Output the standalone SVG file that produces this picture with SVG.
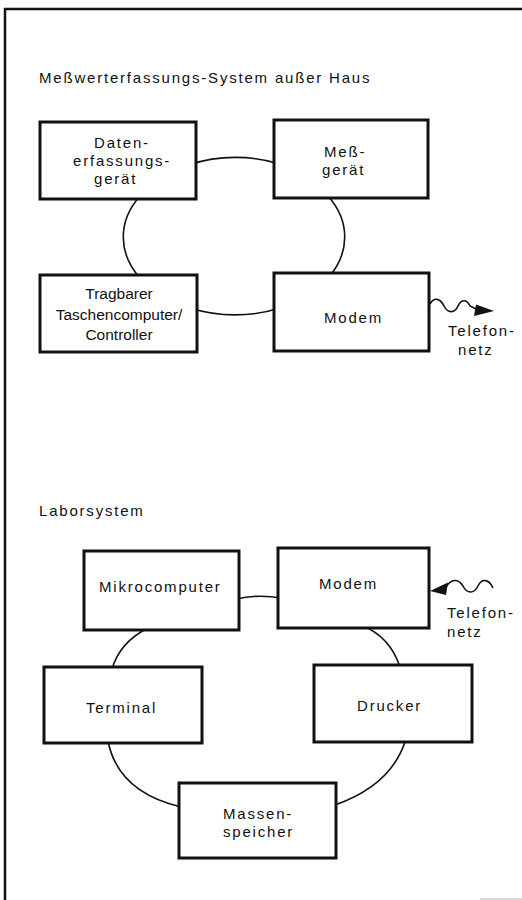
<svg xmlns="http://www.w3.org/2000/svg" width="522" height="900" viewBox="0 0 522 900">
  <style>
    .box { fill: #fff; stroke: #111; stroke-width: 3; }
    .wire { fill: none; stroke: #111; stroke-width: 1.6; }
    .lbl { font-family: "Liberation Sans", Arial, sans-serif; font-size: 15px; fill: #111; letter-spacing: 1.8px; }
    .lbl2 { font-family: "Liberation Sans", Arial, sans-serif; font-size: 15.5px; fill: #111; text-anchor: middle; }
    .frame { fill: none; stroke: #111; stroke-width: 2.5; }
  </style>

  <rect width="522" height="900" fill="#fff"/>

  <!-- page frame -->
  <path class="frame" d="M 5 900 L 5 9 L 522 9"/>
  <line x1="480" y1="899" x2="522" y2="899" stroke="#ccc" stroke-width="1.5"/>

  <!-- section titles -->
  <text class="lbl" x="39" y="83">Meßwerterfassungs-System außer Haus</text>
  <text class="lbl" x="39" y="516">Laborsystem</text>

  <!-- connectors -->
  <g id="connectors">
    <!-- field system ring -->
    <path class="wire" d="M 190 164.5 A 109 77 0 0 1 280 164"/>
    <path class="wire" d="M 140 196 A 109 77 0 0 0 140 278"/>
    <path class="wire" d="M 328 196 A 109 77 0 0 1 328 278"/>
    <path class="wire" d="M 190 308 A 109 77 0 0 0 280 308"/>
    <!-- telephone line out -->
    <path class="wire" d="M 430 304 C 434 297, 440 298, 444 306 C 448 314, 455 313, 458 306 C 461 299, 467 299, 470 306 L 478 310"/>
    <polygon points="494,311 476,304.5 474,316" fill="#111"/>

    <!-- lab system ring -->
    <path class="wire" d="M 236 599 Q 258 594 281 598"/>
    <path class="wire" d="M 148 628 Q 120 642 112 669"/>
    <path class="wire" d="M 108 741 Q 118 792 181 807"/>
    <path class="wire" d="M 335 805 Q 392 785 406 739"/>
    <path class="wire" d="M 363 626 Q 390 637 400 667"/>
    <!-- telephone line in -->
    <path class="wire" d="M 446 587 C 451 579, 458 578, 463 586 C 467 594, 474 594, 478 586 C 482 578, 489 579, 493 588"/>
    <polygon points="430,591 448,582.5 446,595" fill="#111"/>
  </g>

  <!-- field system nodes -->
  <g id="datenerfassungsgeraet">
    <rect class="box" x="40" y="122" width="156" height="77"/>
    <text class="lbl" x="94" y="148">Daten-</text>
    <text class="lbl" x="73" y="166">erfassungs-</text>
    <text class="lbl" x="94" y="184">gerät</text>
  </g>
  <g id="messgeraet">
    <rect class="box" x="274" y="120" width="154" height="78"/>
    <text class="lbl" x="324" y="157">Meß-</text>
    <text class="lbl" x="322" y="175">gerät</text>
  </g>
  <g id="taschencomputer">
    <rect class="box" x="40" y="275" width="157" height="77"/>
    <text class="lbl2" x="119" y="299">Tragbarer</text>
    <text class="lbl2" x="119" y="320">Taschencomputer/</text>
    <text class="lbl2" x="119" y="340">Controller</text>
  </g>
  <g id="modem-feld">
    <rect class="box" x="274" y="273" width="155" height="78"/>
    <text class="lbl" x="324" y="323">Modem</text>
  </g>
  <g id="telefonnetz-feld">
    <text class="lbl" x="448" y="336">Telefon-</text>
    <text class="lbl" x="458" y="355">netz</text>
  </g>

  <!-- lab system nodes -->
  <g id="mikrocomputer">
    <rect class="box" x="84" y="551" width="155" height="79"/>
    <text class="lbl" x="99" y="592">Mikrocomputer</text>
  </g>
  <g id="modem-labor">
    <rect class="box" x="278" y="548" width="151" height="80"/>
    <text class="lbl" x="319" y="589">Modem</text>
  </g>
  <g id="telefonnetz-labor">
    <text class="lbl" x="447" y="618">Telefon-</text>
    <text class="lbl" x="447" y="637">netz</text>
  </g>
  <g id="terminal">
    <rect class="box" x="44" y="667" width="158" height="76"/>
    <text class="lbl" x="86" y="713">Terminal</text>
  </g>
  <g id="drucker">
    <rect class="box" x="314" y="665" width="158" height="77"/>
    <text class="lbl" x="357" y="711">Drucker</text>
  </g>
  <g id="massenspeicher">
    <rect class="box" x="179" y="783" width="157" height="75"/>
    <text class="lbl" x="223" y="819">Massen-</text>
    <text class="lbl" x="223" y="837">speicher</text>
  </g>
</svg>
